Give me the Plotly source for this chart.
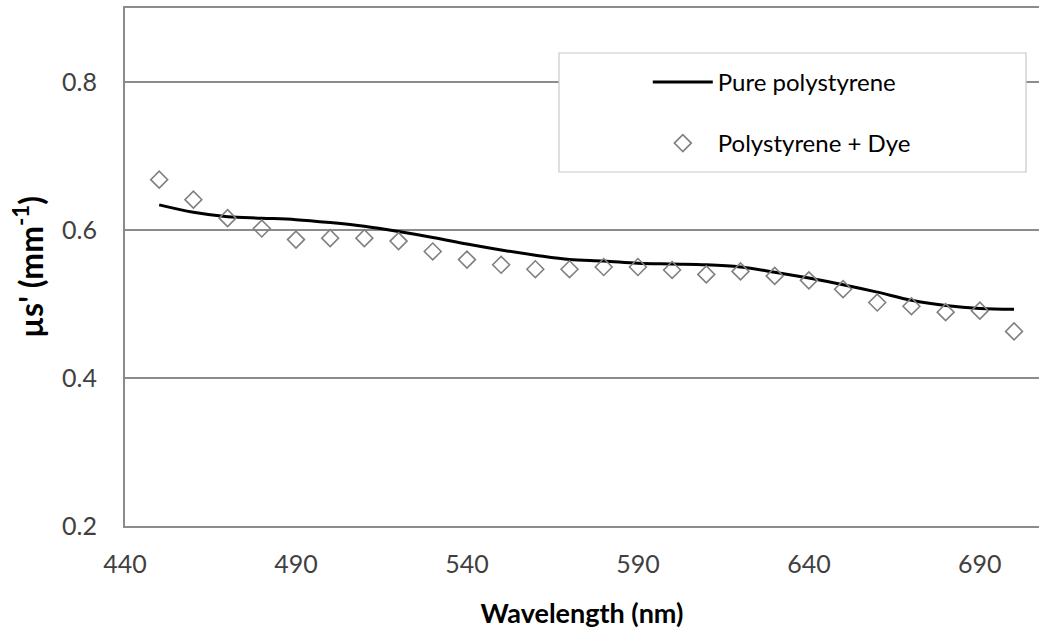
import plotly.graph_objects as go

# Wavelength grid (nm) shared by both series
wavelength = [450, 460, 470, 480, 490, 500, 510, 520, 530, 540, 550, 560, 570,
              580, 590, 600, 610, 620, 630, 640, 650, 660, 670, 680, 690, 700]

# Reduced scattering coefficient, pure polystyrene (smoothed curve)
pure_ps = [0.634, 0.624, 0.618, 0.616, 0.614, 0.610, 0.605, 0.598, 0.590, 0.581,
           0.573, 0.566, 0.560, 0.558, 0.555, 0.554, 0.553, 0.550, 0.543, 0.535,
           0.526, 0.516, 0.505, 0.498, 0.494, 0.493]

# Reduced scattering coefficient, polystyrene with dye
ps_dye = [0.668, 0.641, 0.616, 0.602, 0.587, 0.589, 0.589, 0.585, 0.571, 0.560,
          0.553, 0.547, 0.547, 0.550, 0.550, 0.546, 0.540, 0.544, 0.538, 0.532,
          0.520, 0.502, 0.497, 0.489, 0.491, 0.463]

x_ticks = [440, 490, 540, 590, 640, 690]
y_ticks = [0.2, 0.4, 0.6, 0.8]

FONT = "Lato"
GRID = "#8c8c8c"

fig = go.Figure()
fig.add_trace(go.Scatter(
    x=wavelength, y=pure_ps, mode="lines", name="Pure polystyrene",
    line=dict(color="black", width=3, shape="spline", smoothing=1.0),
    legendgroup="a",
))
fig.add_trace(go.Scatter(
    x=wavelength, y=ps_dye, mode="markers", name="Polystyrene + Dye",
    marker=dict(symbol="diamond-open", size=13, color="#808080",
                line=dict(width=1.6, color="#808080")),
    legendgroup="b",
))

# white legend frame sitting over the grid
fig.add_shape(type="rect", xref="paper", yref="paper",
              x0=0.4748, x1=0.9858, y0=0.6834, y1=0.9131,
              line=dict(color="#c8c8c8", width=1.2), fillcolor="white",
              layer="above")

fig.update_layout(
    width=1039, height=630,
    margin=dict(l=125, r=0, t=8, b=104),
    paper_bgcolor="white", plot_bgcolor="white",
    font=dict(family=FONT, color="#404040", size=24),
    showlegend=True,
    legend=dict(
        x=0.572, y=0.90, xanchor="left", yanchor="top",
        bgcolor="rgba(0,0,0,0)", borderwidth=0,
        font=dict(family=FONT, size=24, color="black"),
        tracegroupgap=27, itemwidth=60,
    ),
    xaxis=dict(
        range=[440, 707.3], tickvals=x_ticks, ticks="",
        showgrid=False, zeroline=False,
        showline=True, linecolor=GRID, linewidth=2, mirror=True,
        tickfont=dict(family=FONT, size=25, color="#404040"),
        ticklabelstandoff=15,
        title=dict(text="<b>Wavelength (nm)</b>", standoff=27,
                   font=dict(family=FONT, size=27, color="black")),
    ),
    yaxis=dict(
        range=[0.2, 0.9], tickvals=y_ticks, tickformat=".1f", ticks="",
        showgrid=True, gridcolor=GRID, gridwidth=1.5, zeroline=False,
        showline=True, linecolor=GRID, linewidth=2,
        tickfont=dict(family=FONT, size=25, color="#404040"),
        ticklabelstandoff=21,
        title=dict(text="<b>µs' (mm<sup>-1</sup>)</b>", standoff=9,
                   font=dict(family=FONT, size=32, color="black")),
    ),
)

fig.write_html("out.html")
